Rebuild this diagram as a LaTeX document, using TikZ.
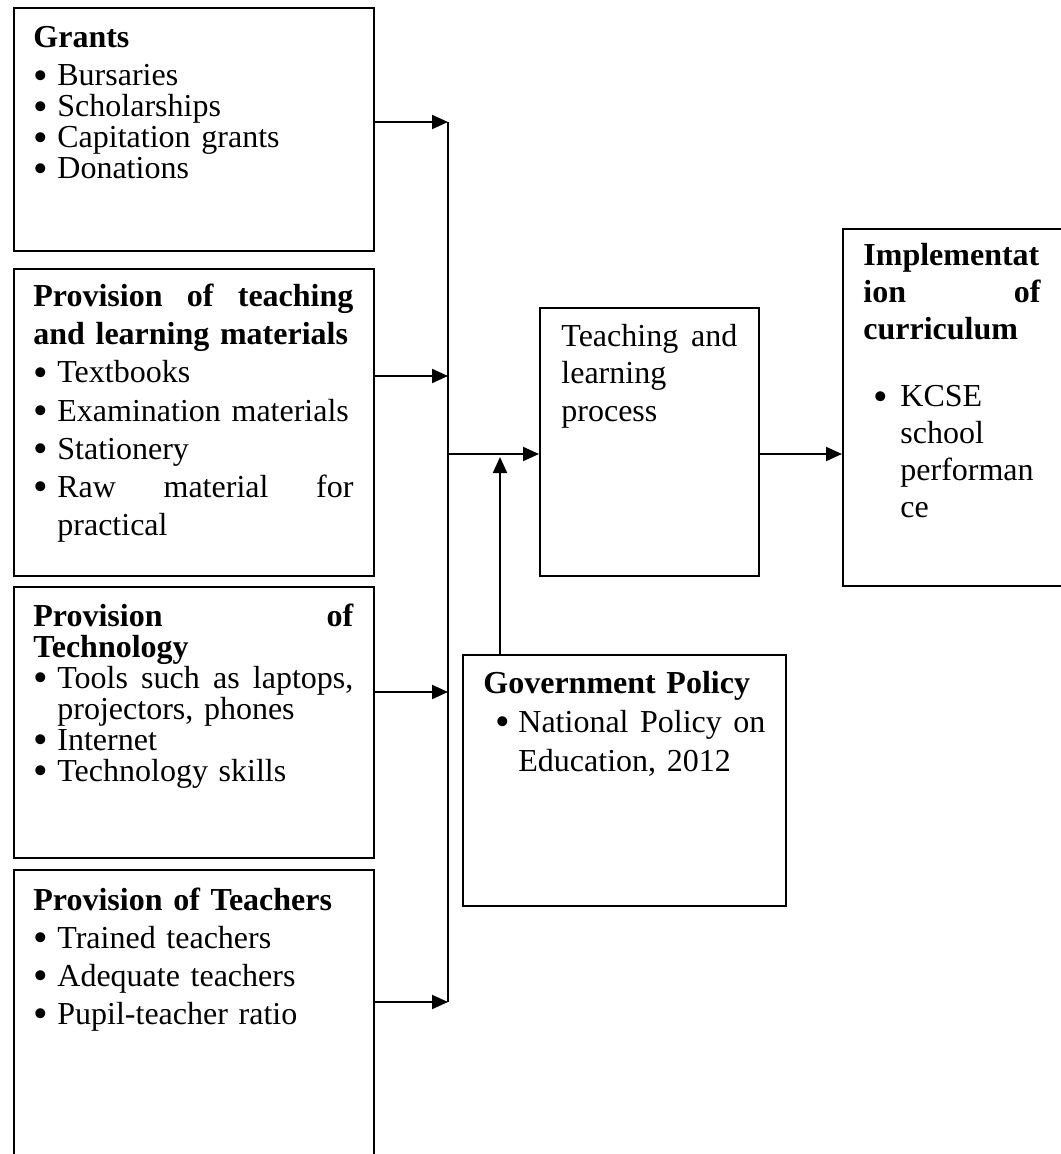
\documentclass[tikz,border=0pt]{standalone}
\usepackage{fontspec}
\setmainfont{Liberation Serif}
\usetikzlibrary{arrows.meta,calc,positioning}

% bullet line with hanging indent: #1 = bullet offset, #2 = text indent
\newcommand{\bitem}[2]{\par\noindent\hangindent=#2\hangafter=1\makebox[#2][l]{\hspace{#1}\raisebox{-1.6pt}{\scalebox{1.3}{\textbullet}}}\ignorespaces}
\newcommand{\lbul}{\bitem{0pt}{12pt}}

\begin{document}
\begin{tikzpicture}[x=0.5pt,y=-0.5pt,
    box/.style={draw,line width=0.9pt,anchor=north west,inner sep=0pt},
    boxtext/.style={anchor=base west,inner sep=0pt,align=left},
    tight/.style={font=\fontsize{16}{15.5}\selectfont},
    loose/.style={font=\fontsize{16}{19}\selectfont},
    arr/.style={line width=1pt,-{Triangle[length=8pt,width=7pt]}}]

\useasboundingbox (0,0) rectangle (1060,1154);

% Left column of inputs
\node[box,minimum width=180pt,minimum height=121.5pt] (grants) at (13,7) {};
\node[boxtext,tight,text width=160pt] (grantsT) at ($(grants.north west)+(20,41)$)
  {\textbf{Grants}\par\vspace{3.5pt}%
   \lbul Bursaries\lbul Scholarships\lbul Capitation grants\lbul Donations\par};

\node[box,minimum width=180pt,minimum height=153.5pt] (teachmat) at (13,268) {};
\node[boxtext,loose,text width=160pt] (teachmatT) at ($(teachmat.north west)+(20,39)$)
  {\textbf{Provision\hfill of\hfill teaching\\and learning materials}%
   \lbul Textbooks\lbul Examination materials\lbul Stationery%
   \lbul Raw\hfill material\hfill for\newline practical\par};

\node[box,minimum width=180pt,minimum height=135.5pt] (tech) at (13,586) {};
\node[boxtext,tight,text width=160pt] (techT) at ($(tech.north west)+(20,40)$)
  {\textbf{Provision\hfill of\\Technology}%
   \lbul Tools\hfill such\hfill as\hfill laptops,\newline projectors, phones%
   \lbul Internet\lbul Technology skills\par};

\node[box,minimum width=180pt,minimum height=160pt] (teachers) at (13,869) {};
\node[boxtext,loose,text width=160pt] (teachersT) at ($(teachers.north west)+(20,41)$)
  {\textbf{Provision of Teachers}\lbul Trained teachers\lbul Adequate teachers\lbul Pupil-teacher ratio\par};

% Process, policy and outcome
\node[box,minimum width=109.5pt,minimum height=134pt] (teach) at (539,307) {};
\node[boxtext,font=\fontsize{16}{18.5}\selectfont,text width=88pt] (teachT) at ($(teach.north west)+(22,40)$)
  {Teaching\hfill and\\learning\\process};

\node[box,minimum width=161.5pt,minimum height=125.5pt] (gov) at (462,654) {};
\node[boxtext,font=\fontsize{16}{19.5}\selectfont,text width=141pt] (govT) at ($(gov.north west)+(21,39)$)
  {\textbf{Government Policy}\bitem{6pt}{17.5pt}National\hfill Policy\hfill on\newline Education, 2012\par};

\node[box,minimum width=109.5pt,minimum height=178.5pt] (impl) at (842,228) {};
\node[boxtext,font=\fontsize{16}{18.5}\selectfont,text width=88.5pt] (implT) at ($(impl.north west)+(21,38)$)
  {\textbf{Implementat\\ion\hfill of\\curriculum}\par\vspace{15pt}%
   \bitem{5pt}{18.5pt}KCSE\newline school\newline performan\newline ce\par};

% Connectors
\coordinate (busA) at (448,122);
\coordinate (busB) at (448,376);
\coordinate (busC) at (448,692);
\coordinate (busD) at (448,1002);
\coordinate (merge) at (448,454);
\coordinate (rise) at (500,457);

\draw[arr] (grants.east |- busA) -- (busA);
\draw[arr] (teachmat.east |- busB) -- (busB);
\draw[arr] (tech.east |- busC) -- (busC);
\draw[arr] (teachers.east |- busD) -- (busD);
\draw[line width=1pt] (busA) -- (busD);

\draw[arr] (merge) -- (merge -| teach.west);
\draw[arr] (gov.north -| rise) -- (rise);
\draw[arr] (merge -| teach.east) -- (merge -| impl.west);

\end{tikzpicture}
\end{document}
